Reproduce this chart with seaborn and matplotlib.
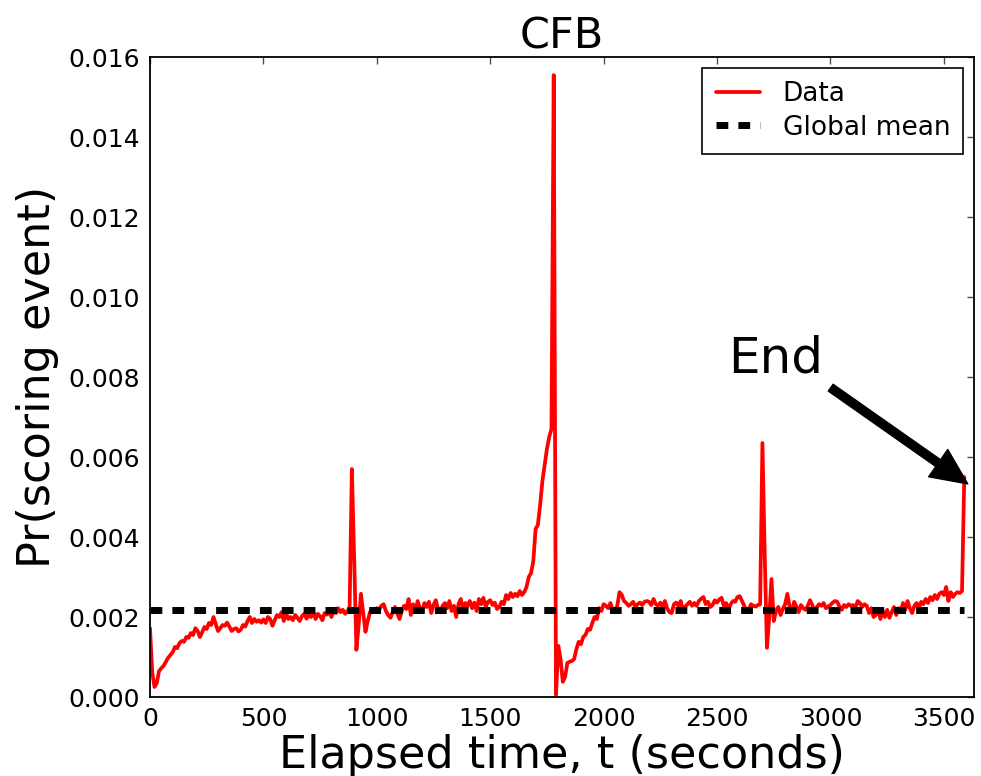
import numpy as np
import matplotlib
matplotlib.use("Agg")
import matplotlib.pyplot as plt
import seaborn as sns

# ---- data (10 s bins) ----
pr_q1 = [  # 0 .. 890 s
    0.00172, 0.00060, 0.00025, 0.00035, 0.00065, 0.00072, 0.00078, 0.00088, 0.00098, 0.00105,
    0.00112, 0.00125, 0.00122, 0.00135, 0.00140, 0.00138, 0.00150, 0.00148, 0.00160, 0.00155,
    0.00172, 0.00165, 0.00150, 0.00162, 0.00175, 0.00170, 0.00185, 0.00180, 0.00200, 0.00182,
    0.00165, 0.00172, 0.00180, 0.00178, 0.00186, 0.00176, 0.00165, 0.00170, 0.00172, 0.00164,
    0.00168, 0.00180, 0.00176, 0.00190, 0.00200, 0.00185, 0.00195, 0.00188, 0.00192, 0.00186,
    0.00194, 0.00185, 0.00200, 0.00195, 0.00178, 0.00192, 0.00205, 0.00200, 0.00212, 0.00190,
    0.00210, 0.00195, 0.00200, 0.00192, 0.00205, 0.00198, 0.00190, 0.00202, 0.00208, 0.00196,
    0.00205, 0.00200, 0.00212, 0.00195, 0.00208, 0.00202, 0.00192, 0.00210, 0.00206, 0.00214,
    0.00200, 0.00215, 0.00210, 0.00222, 0.00212, 0.00218, 0.00208, 0.00215, 0.00222, 0.00570,
]
pr_q2 = [  # 900 .. 1790 s
    0.00350, 0.00118, 0.00180, 0.00258, 0.00210, 0.00163, 0.00190, 0.00212, 0.00220, 0.00215,
    0.00222, 0.00218, 0.00228, 0.00232, 0.00215, 0.00205, 0.00198, 0.00212, 0.00225, 0.00210,
    0.00195, 0.00215, 0.00228, 0.00220, 0.00245, 0.00205, 0.00232, 0.00212, 0.00240, 0.00222,
    0.00215, 0.00235, 0.00225, 0.00238, 0.00210, 0.00230, 0.00242, 0.00220, 0.00212, 0.00228,
    0.00235, 0.00222, 0.00240, 0.00215, 0.00228, 0.00200, 0.00232, 0.00245, 0.00218, 0.00235,
    0.00228, 0.00240, 0.00222, 0.00236, 0.00215, 0.00245, 0.00232, 0.00248, 0.00225, 0.00238,
    0.00242, 0.00230, 0.00236, 0.00220, 0.00225, 0.00238, 0.00232, 0.00255, 0.00245, 0.00260,
    0.00250, 0.00258, 0.00252, 0.00265, 0.00255, 0.00262, 0.00275, 0.00300, 0.00310, 0.00340,
    0.00420, 0.00430, 0.00480, 0.00540, 0.00580, 0.00620, 0.00650, 0.00670, 0.01555, 0.00005,
]
pr_q3 = [  # 1800 .. 2690 s
    0.00128, 0.00095, 0.00038, 0.00050, 0.00085, 0.00088, 0.00090, 0.00095, 0.00120, 0.00138,
    0.00132, 0.00150, 0.00155, 0.00170, 0.00168, 0.00185, 0.00200, 0.00195, 0.00222, 0.00215,
    0.00232, 0.00228, 0.00222, 0.00235, 0.00218, 0.00212, 0.00228, 0.00262, 0.00255, 0.00240,
    0.00235, 0.00228, 0.00232, 0.00238, 0.00225, 0.00232, 0.00236, 0.00230, 0.00238, 0.00240,
    0.00238, 0.00230, 0.00245, 0.00232, 0.00228, 0.00236, 0.00225, 0.00240, 0.00222, 0.00212,
    0.00210, 0.00232, 0.00236, 0.00228, 0.00240, 0.00215, 0.00226, 0.00232, 0.00238, 0.00228,
    0.00235, 0.00228, 0.00240, 0.00246, 0.00250, 0.00232, 0.00238, 0.00225, 0.00230, 0.00242,
    0.00236, 0.00244, 0.00248, 0.00228, 0.00235, 0.00220, 0.00232, 0.00240, 0.00238, 0.00250,
    0.00252, 0.00240, 0.00228, 0.00212, 0.00220, 0.00232, 0.00228, 0.00226, 0.00230, 0.00232,
]
pr_q4 = [  # 2700 .. 3590 s
    0.00635, 0.00360, 0.00123, 0.00200, 0.00295, 0.00190, 0.00215, 0.00225, 0.00205, 0.00220,
    0.00232, 0.00258, 0.00225, 0.00215, 0.00238, 0.00226, 0.00212, 0.00230, 0.00222, 0.00218,
    0.00228, 0.00242, 0.00230, 0.00212, 0.00225, 0.00232, 0.00228, 0.00235, 0.00222, 0.00226,
    0.00230, 0.00236, 0.00240, 0.00238, 0.00226, 0.00218, 0.00230, 0.00225, 0.00232, 0.00228,
    0.00230, 0.00222, 0.00240, 0.00235, 0.00225, 0.00232, 0.00228, 0.00210, 0.00222, 0.00200,
    0.00205, 0.00220, 0.00195, 0.00215, 0.00200, 0.00218, 0.00198, 0.00212, 0.00225, 0.00205,
    0.00222, 0.00215, 0.00235, 0.00218, 0.00240, 0.00222, 0.00210, 0.00228, 0.00235, 0.00222,
    0.00238, 0.00232, 0.00245, 0.00235, 0.00250, 0.00242, 0.00255, 0.00245, 0.00258, 0.00262,
    0.00255, 0.00275, 0.00240, 0.00262, 0.00250, 0.00258, 0.00262, 0.00260, 0.00265, 0.00550,
]
bin_width = 10
global_mean = 0.00217
x_ticks = [0, 500, 1000, 1500, 2000, 2500, 3000, 3500]
y_ticks = [0.000, 0.002, 0.004, 0.006, 0.008, 0.010, 0.012, 0.014, 0.016]
title = "CFB"
x_label = "Elapsed time, t (seconds)"
y_label = "Pr(scoring event)"
annot_text = "End"

pr = np.array(pr_q1 + pr_q2 + pr_q3 + pr_q4)
elapsed = np.arange(len(pr)) * bin_width

# ---- plot ----
sns.set_style("white")
plt.rcParams["font.family"] = ["DejaVu Sans"]
plt.rcParams["text.color"] = "black"
plt.rcParams["axes.labelcolor"] = "black"
plt.rcParams["xtick.color"] = "black"
plt.rcParams["ytick.color"] = "black"

fig = plt.figure(figsize=(9.81, 7.76), dpi=100)
ax = fig.add_axes([0.1529, 0.1018, 0.8400, 0.8247])

sns.lineplot(x=elapsed, y=pr, color="#ff0000", linewidth=2.7, ax=ax,
             label="Data", estimator=None, sort=False)
sns.lineplot(x=[elapsed[0], elapsed[-1]], y=[global_mean, global_mean],
             color="black", linewidth=5, linestyle=(0, (1.7, 1.45)), ax=ax,
             label="Global mean", estimator=None, sort=False)

ax.set_xlim(0, 3633)
ax.set_ylim(0, 0.016)
ax.set_xticks(x_ticks)
ax.set_yticks(y_ticks)
ax.set_yticklabels([f"{v:.3f}" for v in y_ticks])
ax.tick_params(axis="both", which="major", direction="in", length=5, width=1,
               color="0.3", labelcolor="black", labelsize=18, top=True,
               right=True, pad=7)
for sp in ax.spines.values():
    sp.set_visible(True)
    sp.set_color("black")
    sp.set_linewidth(1.3)

ax.set_title(title, fontsize=31, pad=6, color="black")
ax.set_xlabel(x_label, fontsize=32, labelpad=2, color="black")
ax.set_ylabel(y_label, fontsize=32, labelpad=7, color="black")

leg = ax.legend(loc="upper right", fontsize=19, frameon=True, fancybox=False,
                framealpha=1, edgecolor="black", borderaxespad=0.4,
                handlelength=1.67, handletextpad=0.87, labelspacing=0.3,
                borderpad=0.5)
leg.get_frame().set_linewidth(1.2)
for txt in leg.get_texts():
    txt.set_color("black")

ax.annotate(annot_text, xy=(3625, 0.00525), xytext=(2548, 0.00812),
            fontsize=36, ha="left", va="baseline", color="black",
            arrowprops=dict(facecolor="black", edgecolor="black", width=6,
                            headwidth=24, headlength=26, shrink=0.03))

fig.savefig("out.png", dpi=100)
